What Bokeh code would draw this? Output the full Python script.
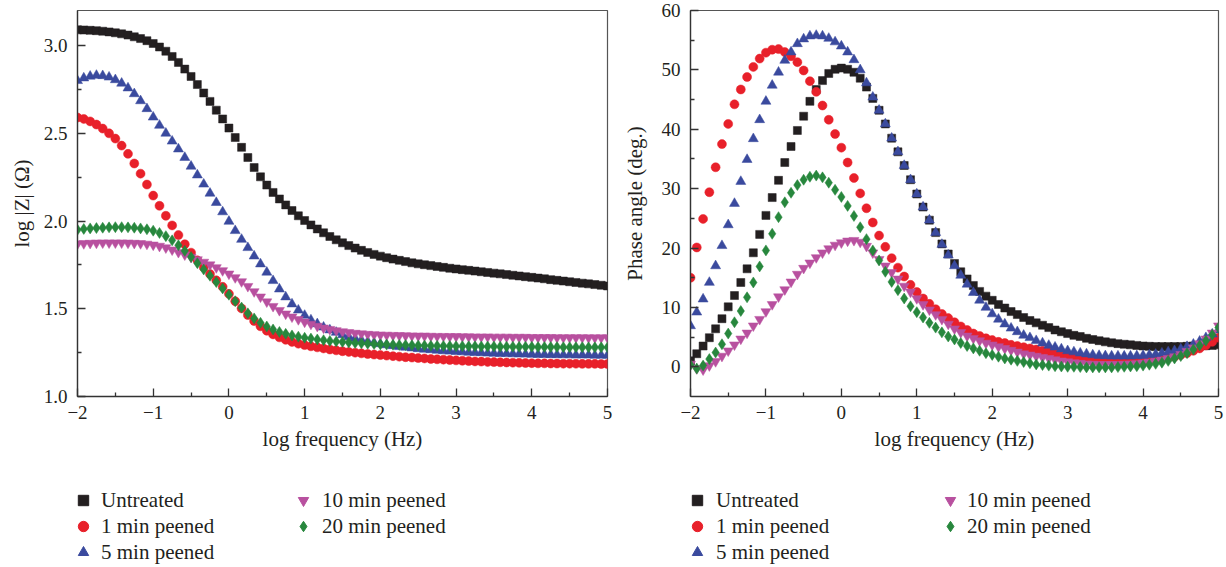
from bokeh.plotting import figure
from bokeh.models import (FixedTicker, Legend, LegendItem, Range1d,
                          ColumnDataSource, CustomJSTickFormatter)
from bokeh.layouts import row, column
from bokeh.embed import file_html
from bokeh.resources import INLINE

# ---------------------------------------------------------------- data
# measurement grid: log10 of frequency (Hz), 12 points per decade
log_freq = [
    -2.0, -1.917, -1.833, -1.75, -1.667, -1.583, -1.5, -1.417, -1.333, -1.25, -1.167, -1.083,
    -1.0, -0.917, -0.833, -0.75, -0.667, -0.583, -0.5, -0.417, -0.333, -0.25, -0.167, -0.083,
    0.0, 0.083, 0.167, 0.25, 0.333, 0.417, 0.5, 0.583, 0.667, 0.75, 0.833, 0.917,
    1.0, 1.083, 1.167, 1.25, 1.333, 1.417, 1.5, 1.583, 1.667, 1.75, 1.833, 1.917,
    2.0, 2.083, 2.167, 2.25, 2.333, 2.417, 2.5, 2.583, 2.667, 2.75, 2.833, 2.917,
    3.0, 3.083, 3.167, 3.25, 3.333, 3.417, 3.5, 3.583, 3.667, 3.75, 3.833, 3.917,
    4.0, 4.083, 4.167, 4.25, 4.333, 4.417, 4.5, 4.583, 4.667, 4.75, 4.833, 4.917,
    5.0,
]

series_names = ["Untreated", "1 min peened", "5 min peened", "10 min peened", "20 min peened"]

# log |Z| (Ohm)
logz_untreated = [
    3.090, 3.089, 3.087, 3.085, 3.082, 3.078, 3.073, 3.067, 3.060, 3.050, 3.040, 3.028,
    3.012, 2.992, 2.968, 2.938, 2.904, 2.866, 2.824, 2.778, 2.730, 2.682, 2.632, 2.582,
    2.530, 2.476, 2.420, 2.362, 2.305, 2.252, 2.205, 2.163, 2.126, 2.092, 2.060, 2.030,
    2.003, 1.978, 1.955, 1.933, 1.912, 1.893, 1.876, 1.860, 1.846, 1.833, 1.821, 1.810,
    1.800, 1.791, 1.783, 1.776, 1.769, 1.762, 1.756, 1.751, 1.746, 1.741, 1.736, 1.731,
    1.727, 1.723, 1.719, 1.715, 1.711, 1.707, 1.703, 1.699, 1.695, 1.691, 1.687, 1.683,
    1.679, 1.675, 1.671, 1.666, 1.662, 1.658, 1.654, 1.650, 1.646, 1.642, 1.638, 1.634,
    1.630,
]
logz_1min = [
    2.590, 2.582, 2.568, 2.550, 2.527, 2.500, 2.470, 2.430, 2.383, 2.328, 2.270, 2.208,
    2.145, 2.087, 2.030, 1.975, 1.920, 1.868, 1.820, 1.776, 1.736, 1.698, 1.662, 1.625,
    1.585, 1.543, 1.502, 1.464, 1.430, 1.400, 1.375, 1.354, 1.337, 1.323, 1.311, 1.301,
    1.293, 1.286, 1.280, 1.274, 1.268, 1.263, 1.258, 1.254, 1.250, 1.246, 1.242, 1.239,
    1.236, 1.233, 1.230, 1.227, 1.224, 1.222, 1.219, 1.217, 1.214, 1.212, 1.210, 1.208,
    1.206, 1.204, 1.202, 1.200, 1.199, 1.197, 1.196, 1.195, 1.194, 1.193, 1.192, 1.191,
    1.190, 1.189, 1.189, 1.188, 1.188, 1.187, 1.187, 1.187, 1.186, 1.186, 1.186, 1.185,
    1.185,
]
logz_5min = [
    2.800, 2.815, 2.825, 2.830, 2.828, 2.820, 2.805, 2.785, 2.758, 2.725, 2.685, 2.640,
    2.592, 2.545, 2.500, 2.455, 2.410, 2.362, 2.312, 2.262, 2.210, 2.158, 2.105, 2.052,
    1.998, 1.945, 1.895, 1.848, 1.800, 1.755, 1.708, 1.660, 1.612, 1.567, 1.527, 1.492,
    1.462, 1.436, 1.414, 1.395, 1.379, 1.365, 1.352, 1.340, 1.330, 1.321, 1.313, 1.306,
    1.300, 1.294, 1.289, 1.284, 1.280, 1.276, 1.272, 1.269, 1.266, 1.263, 1.260, 1.258,
    1.256, 1.254, 1.252, 1.250, 1.249, 1.247, 1.246, 1.245, 1.244, 1.243, 1.242, 1.241,
    1.240, 1.239, 1.239, 1.238, 1.238, 1.237, 1.237, 1.236, 1.236, 1.236, 1.235, 1.235,
    1.235,
]
logz_10min = [
    1.870, 1.872, 1.874, 1.875, 1.876, 1.876, 1.876, 1.876, 1.875, 1.874, 1.872, 1.869,
    1.864, 1.857, 1.848, 1.836, 1.822, 1.808, 1.794, 1.780, 1.766, 1.751, 1.735, 1.718,
    1.699, 1.678, 1.655, 1.628, 1.598, 1.568, 1.540, 1.514, 1.491, 1.471, 1.454, 1.439,
    1.425, 1.413, 1.401, 1.391, 1.383, 1.376, 1.370, 1.365, 1.361, 1.358, 1.355, 1.353,
    1.351, 1.350, 1.349, 1.348, 1.347, 1.346, 1.345, 1.345, 1.344, 1.343, 1.343, 1.342,
    1.342, 1.341, 1.341, 1.340, 1.340, 1.340, 1.339, 1.339, 1.339, 1.338, 1.338, 1.338,
    1.337, 1.337, 1.337, 1.337, 1.336, 1.336, 1.336, 1.336, 1.336, 1.335, 1.335, 1.335,
    1.335,
]
logz_20min = [
    1.950, 1.955, 1.958, 1.960, 1.962, 1.964, 1.965, 1.965, 1.964, 1.962, 1.958, 1.953,
    1.945, 1.932, 1.914, 1.890, 1.862, 1.830, 1.795, 1.760, 1.724, 1.688, 1.652, 1.616,
    1.580, 1.543, 1.507, 1.474, 1.445, 1.420, 1.399, 1.382, 1.368, 1.357, 1.348, 1.341,
    1.335, 1.330, 1.325, 1.321, 1.317, 1.314, 1.311, 1.308, 1.305, 1.303, 1.301, 1.299,
    1.297, 1.296, 1.295, 1.294, 1.293, 1.292, 1.291, 1.290, 1.289, 1.289, 1.288, 1.288,
    1.287, 1.287, 1.286, 1.286, 1.285, 1.285, 1.285, 1.284, 1.284, 1.284, 1.283, 1.283,
    1.283, 1.282, 1.282, 1.282, 1.282, 1.281, 1.281, 1.281, 1.281, 1.280, 1.280, 1.280,
    1.280,
]

# phase angle (deg.)
phase_untreated = [
    1.0, 2.2, 3.5, 4.9, 6.4, 8.1, 10.1, 12.0, 14.2, 16.5, 19.2, 22.3,
    25.5, 28.5, 31.4, 34.4, 37.1, 39.8, 42.2, 44.7, 46.7, 48.2, 49.4, 50.1,
    50.3, 50.1, 49.6, 48.6, 47.1, 45.2, 43.2, 40.9, 38.5, 36.2, 33.9, 31.5,
    29.1, 26.9, 24.7, 22.6, 20.7, 19.0, 17.4, 16.0, 14.8, 13.7, 12.7, 11.9,
    11.2, 10.5, 9.9, 9.3, 8.8, 8.3, 7.8, 7.4, 7.0, 6.6, 6.2, 5.9,
    5.6, 5.3, 5.1, 4.8, 4.6, 4.4, 4.2, 4.05, 3.9, 3.8, 3.7, 3.6,
    3.5, 3.45, 3.4, 3.4, 3.4, 3.4, 3.4, 3.45, 3.5, 3.5, 3.55, 3.6,
    3.7,
]
phase_1min = [
    15.0, 20.1, 24.9, 29.4, 33.6, 37.5, 40.9, 44.2, 46.7, 48.8, 50.5, 51.9,
    52.9, 53.4, 53.5, 53.0, 52.3, 51.3, 49.9, 48.1, 46.3, 44.0, 41.6, 39.2,
    36.9, 34.4, 31.8, 29.2, 26.7, 24.3, 22.1, 20.2, 18.3, 16.7, 15.2, 13.8,
    12.6, 11.5, 10.6, 9.7, 8.9, 8.2, 7.5, 6.8, 6.2, 5.6, 5.2, 4.8,
    4.5, 4.2, 4.0, 3.7, 3.5, 3.3, 3.1, 2.9, 2.7, 2.5, 2.3, 2.1,
    1.9, 1.7, 1.5, 1.4, 1.3, 1.2, 1.1, 1.05, 1.0, 1.0, 1.0, 1.0,
    1.05, 1.1, 1.2, 1.35, 1.5, 1.7, 2.0, 2.3, 2.7, 3.1, 3.6, 4.2,
    4.9,
]
phase_5min = [
    6.9, 9.2, 11.4, 14.2, 17.0, 20.4, 23.9, 27.5, 31.2, 34.9, 38.4, 41.6,
    44.7, 47.4, 49.6, 51.6, 53.0, 54.4, 55.2, 55.7, 55.8, 55.7, 55.3, 54.7,
    54.0, 53.0, 51.7, 50.0, 47.8, 45.4, 43.2, 40.9, 38.5, 36.2, 33.9, 31.5,
    29.1, 26.9, 24.7, 22.6, 20.6, 18.8, 17.0, 15.4, 13.9, 12.5, 11.2, 10.0,
    8.9, 8.0, 7.2, 6.5, 5.9, 5.3, 4.9, 4.4, 4.0, 3.6, 3.3, 3.0,
    2.7, 2.5, 2.3, 2.15, 2.0, 1.9, 1.85, 1.8, 1.8, 1.8, 1.8, 1.85,
    1.9, 2.0, 2.1, 2.3, 2.5, 2.7, 3.0, 3.4, 3.8, 4.3, 4.9, 5.5,
    6.2,
]
phase_10min = [
    0.45, -0.3, -0.5, 0.2, 0.9, 1.8, 2.7, 3.7, 4.7, 5.7, 6.9, 8.0,
    9.3, 10.5, 11.8, 13.0, 14.3, 15.6, 16.6, 17.5, 18.4, 19.2, 19.9, 20.5,
    20.9, 21.2, 21.3, 21.0, 20.3, 19.2, 18.1, 17.0, 15.9, 14.8, 13.6, 12.6,
    11.5, 10.5, 9.6, 8.8, 8.0, 7.2, 6.4, 5.8, 5.2, 4.8, 4.4, 4.0,
    3.7, 3.4, 3.1, 2.8, 2.5, 2.2, 2.0, 1.8, 1.6, 1.4, 1.2, 1.0,
    0.85, 0.7, 0.6, 0.5, 0.45, 0.4, 0.4, 0.4, 0.4, 0.45, 0.5, 0.55,
    0.65, 0.8, 0.95, 1.15, 1.4, 1.7, 2.1, 2.6, 3.2, 3.9, 4.7, 5.7,
    6.9,
]
phase_20min = [
    0.3, -0.3, 0.2, 1.3, 2.4, 3.8, 5.6, 7.5, 9.4, 11.7, 14.2, 16.9,
    19.6, 22.4, 25.2, 27.7, 29.3, 30.6, 31.5, 32.0, 32.2, 31.9, 31.0, 29.8,
    28.6, 27.1, 25.4, 23.5, 21.5, 19.6, 17.9, 16.0, 14.3, 12.9, 11.5, 10.2,
    9.2, 8.3, 7.4, 6.6, 5.8, 5.1, 4.6, 4.0, 3.5, 3.1, 2.7, 2.3,
    2.0, 1.7, 1.4, 1.2, 1.0, 0.8, 0.6, 0.4, 0.3, 0.2, 0.1, 0.05,
    0.0, 0.0, -0.05, -0.1, -0.1, -0.1, -0.1, -0.1, -0.05, 0.0, 0.05, 0.1,
    0.2, 0.35, 0.5, 0.7, 1.0, 1.4, 1.8, 2.3, 2.9, 3.6, 4.4, 5.4,
    6.6,
]

x_major = [-2, -1, 0, 1, 2, 3, 4, 5]
x_minor = [-1.5, -0.5, 0.5, 1.5, 2.5, 3.5, 4.5]
logz_major = [1.0, 1.5, 2.0, 2.5, 3.0]
logz_minor = [1.25, 1.75, 2.25, 2.75]
phase_major = [0, 10, 20, 30, 40, 50, 60]
phase_minor = [5, 15, 25, 35, 45, 55]

# ---------------------------------------------------------------- style
SERIF = "Liberation Serif"
INK = "#231f20"
AXIS = "#333333"
PLOT_H = 470
LEGEND_H = 97
marker_styles = [
    dict(marker="square", color="#231f20", size=8),
    dict(marker="circle", color="#e8202a", size=9),
    dict(marker="triangle", color="#3a4a9e", size=10),
    dict(marker="inverted_triangle", color="#b8509f", size=10),
    dict(marker="diamond", color="#27873d", size=11),
]

signed = CustomJSTickFormatter(code="return (tick < 0 ? '\u2212' : '') + Math.abs(tick).toString();")
one_dec = CustomJSTickFormatter(code="return tick.toFixed(1);")


def style_axis(ax, label, label_standoff, axis_label_standoff):
    ax.axis_label = label
    ax.axis_label_text_font = SERIF
    ax.axis_label_text_font_size = "21px"
    ax.axis_label_text_font_style = "normal"
    ax.axis_label_text_color = INK
    ax.axis_label_standoff = axis_label_standoff
    ax.major_label_text_font = SERIF
    ax.major_label_text_font_size = "19px"
    ax.major_label_text_color = INK
    ax.major_label_standoff = label_standoff
    ax.axis_line_color = AXIS
    ax.axis_line_width = 1.3
    ax.major_tick_line_color = AXIS
    ax.major_tick_line_width = 1.3
    ax.minor_tick_line_color = AXIS
    ax.minor_tick_line_width = 1.3
    ax.major_tick_in = 8
    ax.major_tick_out = 0
    ax.minor_tick_in = 4
    ax.minor_tick_out = 0


def make_panel(width, border_left, border_right, y_range, ylabel, y_values,
               y_major, y_minor, y_fmt, y_label_standoff):
    p = figure(width=width, height=PLOT_H, x_range=Range1d(-2, 5), y_range=y_range,
               output_backend="svg", toolbar_location=None,
               min_border_left=border_left, min_border_right=border_right,
               min_border_top=10, min_border_bottom=PLOT_H - 396)
    p.grid.visible = False
    p.outline_line_color = "#555555"
    p.outline_line_width = 1.2

    for vals, st in zip(y_values, marker_styles):
        src = ColumnDataSource(dict(x=log_freq, y=vals))
        p.scatter("x", "y", source=src, marker=st["marker"], size=st["size"],
                  fill_color=st["color"], line_color=st["color"], line_width=0.5)

    style_axis(p.xaxis[0], "log frequency (Hz)", 9, 5)
    p.xaxis[0].ticker = FixedTicker(ticks=x_major, minor_ticks=x_minor)
    p.xaxis[0].formatter = signed

    style_axis(p.yaxis[0], ylabel, 10, y_label_standoff)
    p.yaxis[0].ticker = FixedTicker(ticks=y_major, minor_ticks=y_minor)
    p.yaxis[0].formatter = y_fmt
    return p


def make_legend(width, col1_x, col2_x, standoffs):
    # key strip under a panel: one swatch per treatment, in two columns.
    # The swatch renderers hold the first sample only and sit outside the
    # strip's 0..1 view, so only the legend entries are visible.
    lg = figure(width=width, height=LEGEND_H, x_range=Range1d(0, 1), y_range=Range1d(0, 1),
                output_backend="svg", toolbar_location=None,
                x_axis_location=None, y_axis_location=None,
                min_border_left=0, min_border_right=0, min_border_top=0, min_border_bottom=0)
    lg.grid.visible = False
    lg.outline_line_color = None
    swatches = []
    for st in marker_styles:
        swatches.append(lg.scatter(x=log_freq[:1], y=log_freq[:1], marker=st["marker"],
                                   size=st["size"], fill_color=st["color"],
                                   line_color=st["color"]))
    groups = [(range(0, 3), col1_x, 2, standoffs[0]),
              (range(3, 5), col2_x, 28, standoffs[1])]
    for idx, lx, ly, standoff in groups:
        leg = Legend(items=[LegendItem(label=series_names[i], renderers=[swatches[i]])
                            for i in idx],
                     location=(lx, ly), orientation="vertical",
                     glyph_height=26, glyph_width=26, label_height=26,
                     label_standoff=standoff, spacing=0, padding=0, margin=0,
                     border_line_alpha=0, background_fill_alpha=0,
                     label_text_font=SERIF, label_text_font_size="21px",
                     label_text_color=INK)
        lg.add_layout(leg)
    return lg


p_mod = make_panel(618, 77, 11, Range1d(1.0, 3.2), "log |Z| (\u03a9)",
                   [logz_untreated, logz_1min, logz_5min, logz_10min, logz_20min],
                   logz_major, logz_minor, one_dec, 7)

p_phase = make_panel(608, 72, 8, Range1d(-5, 60), "Phase angle (deg.)",
                     [phase_untreated, phase_1min, phase_5min, phase_10min, phase_20min],
                     phase_major, phase_minor, signed, 12)

key_mod = make_legend(618, 70, 290, (5, 6))
key_phase = make_legend(608, 66, 319, (6, 4))

layout = column(row(p_mod, p_phase), row(key_mod, key_phase))
open("out.html", "w").write(file_html(layout, INLINE))
